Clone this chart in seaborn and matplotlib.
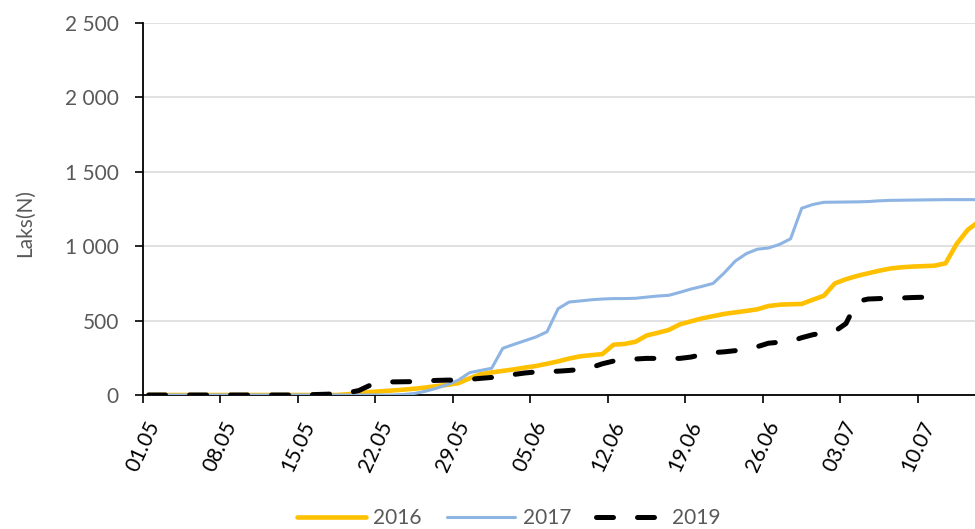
import numpy as np
import pandas as pd
import matplotlib
matplotlib.use("Agg")
import matplotlib.pyplot as plt
import seaborn as sns

# ---- data (cumulative count per day, day 0 = 01.05) ----
laks_2016 = [0]*18 + [
    5, 12, 20, 25, 30, 36, 42, 50, 60, 68,          # d18-27
    80, 112, 140, 152, 162, 172, 184, 195, 210, 226,  # d28-37
    245, 260, 268, 275, 338, 343, 358, 400, 418, 437,  # d38-47
    475, 495, 515, 530, 545, 555, 565, 576, 598, 607,  # d48-57
    610, 612, 640, 667, 750, 778, 800, 818, 835, 850,  # d58-67
    858, 863, 866, 869, 885, 1015, 1110, 1165]        # d68-75

laks_2017 = [0]*23 + [
    3, 10, 25, 45, 70, 100, 150,                      # d23-29
    165, 180, 314, 340, 365, 390, 425, 580, 625, 632,  # d30-39
    640, 645, 648, 648, 650, 658, 665, 670, 690, 712,  # d40-49
    730, 750, 820, 900, 950, 980, 988, 1012, 1050, 1255,  # d50-59
    1280, 1295, 1296, 1297, 1298, 1300, 1305, 1308, 1309, 1310,  # d60-69
    1311, 1312, 1313, 1313, 1313, 1313]               # d70-75

laks_2019 = [0]*15 + [
    3, 5, 8, 15, 30, 65, 85, 88, 89, 90,              # d15-24
    95, 98, 100, 100, 105, 112, 118, 125, 138, 148,   # d25-34
    155, 158, 160, 165, 172, 185, 210, 228, 235, 242,  # d35-44
    246, 246, 246, 246, 255, 272, 285, 290, 298, 308,  # d45-54
    325, 348, 355, 360, 385, 405, 418, 428, 480, 628,  # d55-64
    645, 648, 650, 652, 655, 657]                     # d65-70

series_names = ["2016", "2017", "2019"]
x_tick_labels = ["01.05", "08.05", "15.05", "22.05", "29.05", "05.06",
                 "12.06", "19.06", "26.06", "03.07", "10.07"]
y_ticks = [0, 500, 1000, 1500, 2000, 2500]
y_tick_labels = ["0", "500", "1 000", "1 500", "2 000", "2 500"]

# ---- style ----
sns.set_style("white")
plt.rcParams["font.family"] = ["Lato", "DejaVu Sans"]

fig = plt.figure(figsize=(9.75, 5.29), dpi=100)
ax = fig.add_axes([143/975, 1 - 395/529, 1 - 143/975, (395 - 23)/529])

colors = {"2016": "#FFC000", "2017": "#8EB4E3", "2019": "#000000"}
data = {"2016": laks_2016, "2017": laks_2017, "2019": laks_2019}

for name in series_names:
    vals = data[name]
    days = np.arange(len(vals)) + 0.5
    df = pd.DataFrame({"day": days, "laks": vals})
    if name == "2019":
        sns.lineplot(data=df, x="day", y="laks", ax=ax, color=colors[name],
                     linewidth=3.6, linestyle=(0, (3.4, 4.8)),
                     dash_capstyle="round", label=name, zorder=4)
    elif name == "2016":
        sns.lineplot(data=df, x="day", y="laks", ax=ax, color=colors[name],
                     linewidth=3.3, label=name, zorder=3)
    else:
        sns.lineplot(data=df, x="day", y="laks", ax=ax, color=colors[name],
                     linewidth=2.2, label=name, zorder=3)

ax.set_xlim(0, (975 - 143) / 11.07)
ax.set_ylim(0, 2500)

ax.set_xticks(np.arange(len(x_tick_labels)) * 7)
ax.set_xticklabels(x_tick_labels, rotation=65, ha="center", va="top",
                   fontsize=15, color="black")
ax.set_yticks(y_ticks)
ax.set_yticklabels(y_tick_labels, fontsize=15, color="#595959")

ax.tick_params(axis="x", direction="out", length=5.5, width=1.2,
               color="black", pad=11, bottom=True)
ax.tick_params(axis="y", direction="out", length=5.5, width=1.2,
               color="black", pad=12, left=True)

ax.grid(axis="y", color="#D9D9D9", linewidth=1.1)
ax.grid(axis="x", visible=False)
ax.set_axisbelow(True)

for side in ["top", "right"]:
    ax.spines[side].set_visible(False)
for side in ["left", "bottom"]:
    ax.spines[side].set_color("black")
    ax.spines[side].set_linewidth(1.3)

ax.set_xlabel("")
ax.set_ylabel("Laks(N)", fontsize=15, color="#595959")
ax.yaxis.set_label_coords(-0.13, 0.462)

handles, labels = ax.get_legend_handles_labels()
ax.get_legend().remove()
fig.legend(handles, labels, loc="center", bbox_to_anchor=(0.522, 0.021),
           ncol=3, frameon=False, fontsize=15, handlelength=3.3,
           handletextpad=0.35, columnspacing=1.2, labelcolor="#595959")

fig.savefig("out.png", dpi=100)
